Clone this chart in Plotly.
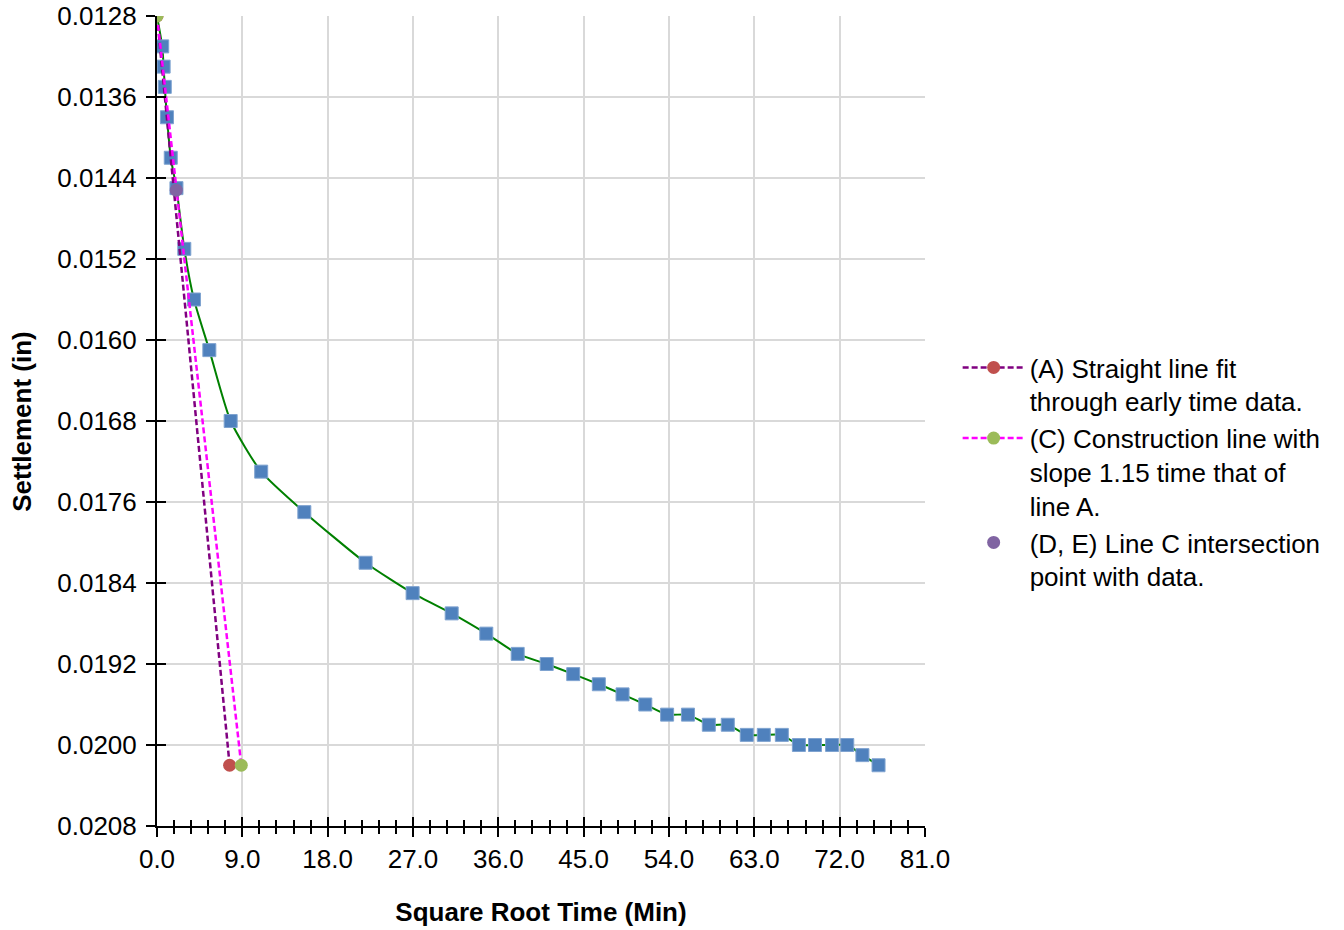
import plotly.graph_objects as go

# ---- data ----
sqrt_time = [0.55, 0.70, 0.82, 1.05, 1.45, 2.05, 2.88, 3.90, 5.52, 7.77, 10.99, 15.54,
             22.0, 26.96, 31.08, 34.73, 38.04, 41.1, 43.9, 46.6, 49.1, 51.5, 53.8, 56.0,
             58.2, 60.2, 62.2, 64.0, 65.9, 67.7, 69.4, 71.2, 72.8, 74.4, 76.1]
settlement = [0.0131, 0.0133, 0.0135, 0.0138, 0.0142, 0.0145, 0.0151, 0.0156, 0.0161,
              0.0168, 0.0173, 0.0177, 0.0182, 0.0185, 0.0187, 0.0189, 0.0191, 0.0192,
              0.0193, 0.0194, 0.0195, 0.0196, 0.0197, 0.0197, 0.0198, 0.0198, 0.0199,
              0.0199, 0.0199, 0.0200, 0.0200, 0.0200, 0.0200, 0.0201, 0.0202]
start_x = [0.0]
start_y = [0.0128]

lineA_x = [0.0, 7.66]
lineA_y = [0.0128, 0.0202]
lineC_x = [0.0, 8.89]
lineC_y = [0.0128, 0.0202]
pointDE_x = [2.03]
pointDE_y = [0.01452]

x_ticks = [0, 9, 18, 27, 36, 45, 54, 63, 72, 81]

FONT = "Liberation Sans, Arial, sans-serif"
FS = 26

fig = go.Figure()

fig.add_trace(go.Scatter(
    x=start_x + sqrt_time, y=start_y + settlement, mode="lines",
    line=dict(color="#008000", width=2, shape="spline", smoothing=0.6),
    showlegend=False, hoverinfo="skip"))
fig.add_trace(go.Scatter(
    x=sqrt_time, y=settlement, mode="markers",
    marker=dict(symbol="square", size=13, color="#4F81BD",
                line=dict(color="#7FA3D0", width=1)),
    showlegend=False))
fig.add_trace(go.Scatter(
    x=lineA_x, y=lineA_y, mode="lines+markers",
    name="(A) Straight line fit<br>through early time data.",
    line=dict(color="#800080", width=2.5, dash="6px,3px"),
    marker=dict(size=13, color="#C0504D")))
fig.add_trace(go.Scatter(
    x=lineC_x, y=lineC_y, mode="lines+markers",
    name="(C) Construction line with<br>slope 1.15 time that of<br>line A.",
    line=dict(color="#FF00FF", width=2.5, dash="6px,3px"),
    marker=dict(size=13, color="#9BBB59")))
fig.add_trace(go.Scatter(
    x=pointDE_x, y=pointDE_y, mode="markers",
    name="(D, E) Line C intersection<br>point with data.",
    marker=dict(size=13, color="#8064A2")))

# invisible trace to activate overlay axes (inside ticks -> "cross" ticks)
fig.add_trace(go.Scatter(x=[0], y=[0.0128], xaxis="x2", yaxis="y2", mode="markers",
                         marker=dict(opacity=0), showlegend=False, hoverinfo="skip"))

fig.update_layout(
    width=1344, height=930,
    margin=dict(l=157, r=419, t=16, b=104, autoexpand=False),
    paper_bgcolor="white", plot_bgcolor="white",
    font=dict(family=FONT, size=FS, color="black"),
    xaxis=dict(
        range=[0, 81], tickvals=x_ticks, tickformat=".1f", automargin=False,
        showgrid=True, gridcolor="#D9D9D9", gridwidth=2,
        showline=True, linecolor="black", linewidth=2,
        ticks="outside", ticklen=9, tickwidth=2, tickcolor="black",
        minor=dict(dtick=1.8, tick0=0, ticks="outside", ticklen=6, tickwidth=2,
                   tickcolor="black", showgrid=False),
        zeroline=False,
        title=dict(text="<b>Square Root Time (Min)</b>", font=dict(size=FS), standoff=30),
        tickfont=dict(size=FS),
    ),
    yaxis=dict(
        range=[0.0208, 0.0128], dtick=0.0008, tick0=0.0128, tickformat=".4f",
        automargin=False, ticklabelstandoff=4,
        showgrid=True, gridcolor="#D9D9D9", gridwidth=2,
        showline=True, linecolor="black", linewidth=2,
        ticks="outside", ticklen=9, tickwidth=2, tickcolor="black",
        zeroline=False,
        tickfont=dict(size=FS),
    ),
    xaxis2=dict(
        overlaying="x", range=[0, 81], tickvals=x_ticks, showticklabels=False,
        showgrid=False, zeroline=False, side="bottom", automargin=False,
        ticks="inside", ticklen=9, tickwidth=2, tickcolor="black",
        minor=dict(dtick=1.8, tick0=0, ticks="inside", ticklen=6, tickwidth=2,
                   tickcolor="black", showgrid=False),
    ),
    yaxis2=dict(
        overlaying="y", range=[0.0208, 0.0128], dtick=0.0008, tick0=0.0128,
        showticklabels=False, showgrid=False, zeroline=False, side="left",
        automargin=False,
        ticks="inside", ticklen=9, tickwidth=2, tickcolor="black",
    ),
    legend=dict(
        x=1.0425, y=0.595, xanchor="left", yanchor="top",
        font=dict(size=FS), valign="top", itemwidth=62,
        bgcolor="rgba(0,0,0,0)",
    ),
    annotations=[dict(
        text="<b>Settlement (in)</b>", textangle=-90, showarrow=False,
        xref="paper", yref="paper", x=-0.176, y=0.5,
        xanchor="center", yanchor="middle", font=dict(size=FS))],
)

fig.write_html("out.html")
